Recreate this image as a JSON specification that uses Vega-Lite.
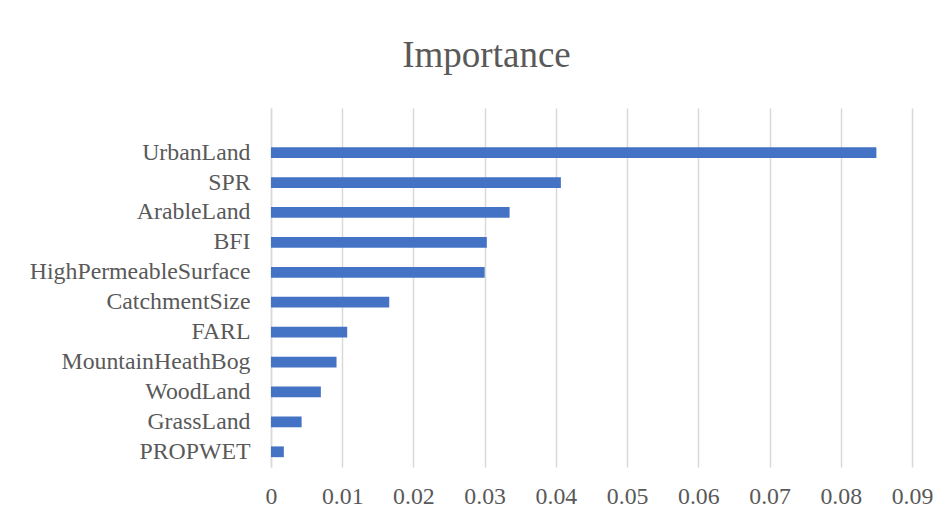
{
  "$schema": "https://vega.github.io/schema/vega-lite/v6.json",
  "autosize": {"type": "none"},
  "width": 641,
  "height": 359,
  "padding": {"left": 271, "top": 108, "right": 39, "bottom": 53},
  "background": "white",
  "title": {
    "text": "Importance",
    "font": "Liberation Serif",
    "fontSize": 37,
    "fontWeight": "normal",
    "color": "#595959",
    "anchor": "middle",
    "frame": "group",
    "baseline": "alphabetic",
    "offset": 4,
    "dx": -105
  },
  "data": {
    "values": [
      {"feature": "UrbanLand", "importance": 0.0850},
      {"feature": "SPR", "importance": 0.0407},
      {"feature": "ArableLand", "importance": 0.0335},
      {"feature": "BFI", "importance": 0.0303},
      {"feature": "HighPermeableSurface", "importance": 0.0300},
      {"feature": "CatchmentSize", "importance": 0.0166},
      {"feature": "FARL", "importance": 0.0107},
      {"feature": "MountainHeathBog", "importance": 0.0092},
      {"feature": "WoodLand", "importance": 0.0070},
      {"feature": "GrassLand", "importance": 0.0043},
      {"feature": "PROPWET", "importance": 0.0018}
    ]
  },
  "mark": {"type": "bar", "color": "#4472C4"},
  "encoding": {
    "y": {
      "field": "feature",
      "type": "nominal",
      "sort": null,
      "scale": {"paddingInner": 0.64, "paddingOuter": 0.82, "align": 0.8},
      "axis": {
        "title": null,
        "ticks": false,
        "labelPadding": 21,
        "labelLimit": 0,
        "labelFont": "Liberation Serif",
        "labelFontSize": 23.8,
        "labelColor": "#595959",
        "domainColor": "#d9d9d9",
        "domainWidth": 1.5,
        "grid": false
      }
    },
    "x": {
      "field": "importance",
      "type": "quantitative",
      "scale": {"domain": [0, 0.09], "nice": false},
      "axis": {
        "title": null,
        "values": [0, 0.01, 0.02, 0.03, 0.04, 0.05, 0.06, 0.07, 0.08, 0.09],
        "format": ".2~f",
        "ticks": false,
        "tickSize": 0,
        "domain": false,
        "labelPadding": 17,
        "labelFont": "Liberation Serif",
        "labelFontSize": 23.8,
        "labelColor": "#595959",
        "labelFlush": false,
        "grid": true,
        "gridColor": "#d9d9d9",
        "gridWidth": 1.5
      }
    }
  },
  "config": {"view": {"stroke": null}}
}
